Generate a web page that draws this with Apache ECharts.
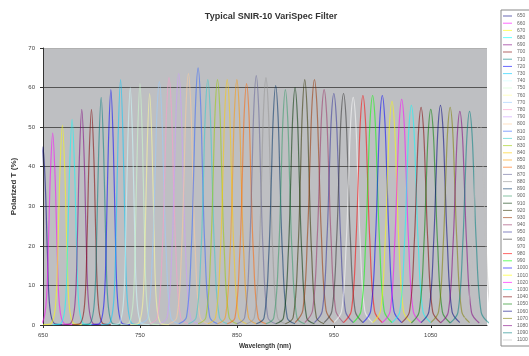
<!DOCTYPE html>
<html>
<head>
<meta charset="utf-8">
<script src="https://cdn.jsdelivr.net/npm/echarts@6/dist/echarts.min.js"></script>
<style>
html,body{margin:0;padding:0;background:#fff;}
#c{width:529px;height:356px;}
</style>
</head>
<body>
<div id="c"></div>
<script>
// Peak centre wavelengths (nm) of each filter setting
const CENTERS = [650,660,670,680,690,700,710,720,730,740,750,760,770,780,790,800,810,820,830,840,850,860,870,880,890,900,910,920,930,940,950,960,970,980,990,1000,1010,1020,1030,1040,1050,1060,1070,1080,1090,1100];
// Sample offsets (nm) from each centre at which the transmission was read
const OFFSETS = [-20,-12,-7,-4.5,-2.5,0,2.5,4.5,7,12,20];
// Polarized transmission (%) read at those offsets, one row per filter setting
const TRANSMISSION = [
 [0.1,0.3,4.5,18.5,34.5,45,34.5,18.5,4.5,0.3,0.1],
 [0.1,0.3,4.9,19.9,37.3,48.5,37.3,19.9,4.9,0.3,0.1],
 [0.1,0.3,5.1,20.7,38.9,50.5,38.9,20.7,5.1,0.3,0.1],
 [0.1,0.3,5.2,21.3,40,52,40,21.3,5.2,0.3,0.1],
 [0.1,0.3,5.5,22.3,42,54.5,42,22.3,5.5,0.3,0.1],
 [0.1,0.3,5.5,22.3,42,54.5,42,22.3,5.5,0.3,0.1],
 [0.1,0.3,5.8,23.6,44.3,57.5,44.3,23.6,5.8,0.3,0.1],
 [0.1,0.3,6,24.4,45.8,59.5,45.8,24.4,6,0.3,0.1],
 [0.1,0.3,6.2,25.4,47.7,62,47.7,25.4,6.2,0.3,0.1],
 [0.1,0.3,6,24.6,46.2,60,46.2,24.6,6,0.3,0.1],
 [0.1,0.3,6.1,25,47,61,47,25,6.1,0.3,0.1],
 [0.1,0.3,5.9,24,45,58.5,45,24,5.9,0.3,0.1],
 [0.3,1.8,18.5,36.9,53.5,61.5,53.5,36.9,18.5,1.8,0.3],
 [0.3,1.9,18.8,37.5,54.4,62.5,54.4,37.5,18.8,1.9,0.3],
 [0.3,1.9,19.1,38.1,55.2,63.5,55.2,38.1,19.1,1.9,0.3],
 [0.3,1.9,19.1,38.1,55.2,63.5,55.2,38.1,19.1,1.9,0.3],
 [0.3,2,19.5,39,56.6,65,56.6,39,19.5,2,0.3],
 [0.3,1.9,18.6,37.2,53.9,62,53.9,37.2,18.6,1.9,0.3],
 [0.3,1.9,18.6,37.2,53.9,62,53.9,37.2,18.6,1.9,0.3],
 [0.3,1.9,18.6,37.2,53.9,62,53.9,37.2,18.6,1.9,0.3],
 [0.3,1.9,18.6,37.2,53.9,62,53.9,37.2,18.6,1.9,0.3],
 [0.3,1.8,18.3,36.6,53.1,61,53.1,36.6,18.3,1.8,0.3],
 [0.3,1.9,18.9,37.8,54.8,63,54.8,37.8,18.9,1.9,0.3],
 [0.3,1.9,18.8,37.5,54.4,62.5,54.4,37.5,18.8,1.9,0.3],
 [0.3,1.8,18.2,36.3,52.6,60.5,52.6,36.3,18.2,1.8,0.3],
 [0.3,1.8,17.9,35.7,51.8,59.5,51.8,35.7,17.9,1.8,0.3],
 [0.3,1.8,18,36,52.2,60,52.2,36,18,1.8,0.3],
 [0.3,1.9,18.6,37.2,53.9,62,53.9,37.2,18.6,1.9,0.3],
 [0.6,3.7,23.6,42.2,55.8,62,55.8,42.2,23.6,3.7,0.6],
 [0.6,3.6,22.6,40.5,53.6,59.5,53.6,40.5,22.6,3.6,0.6],
 [0.6,3.5,22.2,39.8,52.7,58.5,52.7,39.8,22.2,3.5,0.6],
 [0.6,3.5,22.2,39.8,52.7,58.5,52.7,39.8,22.2,3.5,0.6],
 [0.6,3.5,21.9,39.1,51.8,57.5,51.8,39.1,21.9,3.5,0.6],
 [0.6,3.5,22,39.4,52.2,58,52.2,39.4,22,3.5,0.6],
 [0.6,3.5,22,39.4,52.2,58,52.2,39.4,22,3.5,0.6],
 [0.6,3.5,22,39.4,52.2,58,52.2,39.4,22,3.5,0.6],
 [0.6,3.4,21.5,38.4,50.9,56.5,50.9,38.4,21.5,3.4,0.6],
 [0.6,3.4,21.7,38.8,51.3,57,51.3,38.8,21.7,3.4,0.6],
 [0.6,3.3,21.1,37.7,50,55.5,50,37.7,21.1,3.3,0.6],
 [0.6,3.3,20.9,37.4,49.5,55,49.5,37.4,20.9,3.3,0.6],
 [0.5,3.3,20.7,37.1,49.1,54.5,49.1,37.1,20.7,3.3,0.5],
 [0.6,3.3,21.1,37.7,50,55.5,50,37.7,21.1,3.3,0.6],
 [0.6,3.3,20.9,37.4,49.5,55,49.5,37.4,20.9,3.3,0.6],
 [0.5,3.2,20.5,36.7,48.6,54,48.6,36.7,20.5,3.2,0.5],
 [0.5,3.2,20.5,36.7,48.6,54,48.6,36.7,20.5,3.2,0.5],
 [0.5,3.2,20.1,36,47.7,53,47.7,36,20.1,3.2,0.5]
];
const Y_TICKS = [0,10,20,30,40,50,60,70];
const X_TICKS = [650,750,850,950,1050];

const COLORS = ['#000080','#FF00FF','#FFFF00','#00FFFF','#800080','#800000','#008080','#0000FF','#00CCFF','#CCFFFF','#CCFFCC','#FFFF99','#99CCFF','#FF99CC','#CC99FF','#FFCC99','#3366FF','#33CCCC','#99CC00','#FFCC00','#FF9900','#FF6600','#666699','#969696','#003366','#339966','#003300','#333300','#993300','#993366','#333399','#333333','#FFFFFF','#FF0000','#00FF00','#0000FF','#FFFF00','#FF00FF','#00FFFF','#800000','#008000','#000080','#808000','#800080','#008080','#C0C0C0'];

const FONT = 'Liberation Sans, Arial, sans-serif';
const names = CENTERS.map(c => String(c));
const series = CENTERS.map((c, i) => ({
  name: names[i],
  type: 'line',
  data: OFFSETS.map((o, k) => [c + o, TRANSMISSION[i][k]]),
  showSymbol: false,
  smooth: 0.35,
  clip: true,
  color: COLORS[i],
  lineStyle: { width: 1.2, color: COLORS[i], opacity: 0.55 },
  emphasis: { disabled: true }
}));

const chart = echarts.init(document.getElementById('c'));
chart.setOption({
  animation: false,
  backgroundColor: '#ffffff',
  textStyle: { fontFamily: FONT },
  graphic: [{
    type: 'text', x: 271, y: 17,
    style: { text: 'Typical SNIR-10 VariSpec Filter', textAlign: 'center', textVerticalAlign: 'middle',
      font: 'bold 9px ' + FONT, fill: '#333' }
  }],
  legend: {
    orient: 'vertical', left: 501, top: 10,
    itemWidth: 9, itemHeight: 1, itemGap: 1.2, icon: 'rect',
    padding: [3, 2, 3, 2], borderColor: '#888', borderWidth: 1, backgroundColor: '#fff',
    textStyle: { fontSize: 5, color: '#666', lineHeight: 6, fontFamily: FONT },
    itemStyle: { opacity: 0.6 },
    data: names
  },
  grid: { left: 43, right: 42, top: 48, bottom: 31, show: true, backgroundColor: '#bebfc2', borderWidth: 0 },
  xAxis: {
    type: 'value', min: 650, max: 1108, interval: 100,
    name: 'Wavelength (nm)', nameLocation: 'middle', nameGap: 18,
    nameTextStyle: { fontSize: 6.5, fontWeight: 'bold', color: '#333', fontFamily: FONT },
    axisLine: { show: true, lineStyle: { color: '#333', width: 1 } },
    axisTick: { show: true, length: 3, lineStyle: { color: '#333' } },
    axisLabel: { fontSize: 6, color: '#444', margin: 7, showMaxLabel: false,
      formatter: v => (X_TICKS.indexOf(v) >= 0 ? String(v) : '') },
    splitLine: { show: false }
  },
  yAxis: {
    type: 'value', min: 0, max: 70, interval: 10,
    name: 'Polarized T (%)', nameLocation: 'middle', nameGap: 19,
    nameTextStyle: { fontSize: 8, fontWeight: 'bold', color: '#333', fontFamily: FONT },
    axisLine: { show: true, lineStyle: { color: '#333', width: 1 } },
    axisTick: { show: true, length: 3, lineStyle: { color: '#333' } },
    axisLabel: { fontSize: 6, color: '#444', margin: 8,
      formatter: v => (Y_TICKS.indexOf(v) >= 0 ? String(v) : '') },
    splitLine: { show: true, lineStyle: { color: ['#555','#555','#555','#555','#555','#555','#555','#b0b0b0'], width: 1 } }
  },
  series: series
});
</script>
</body>
</html>
